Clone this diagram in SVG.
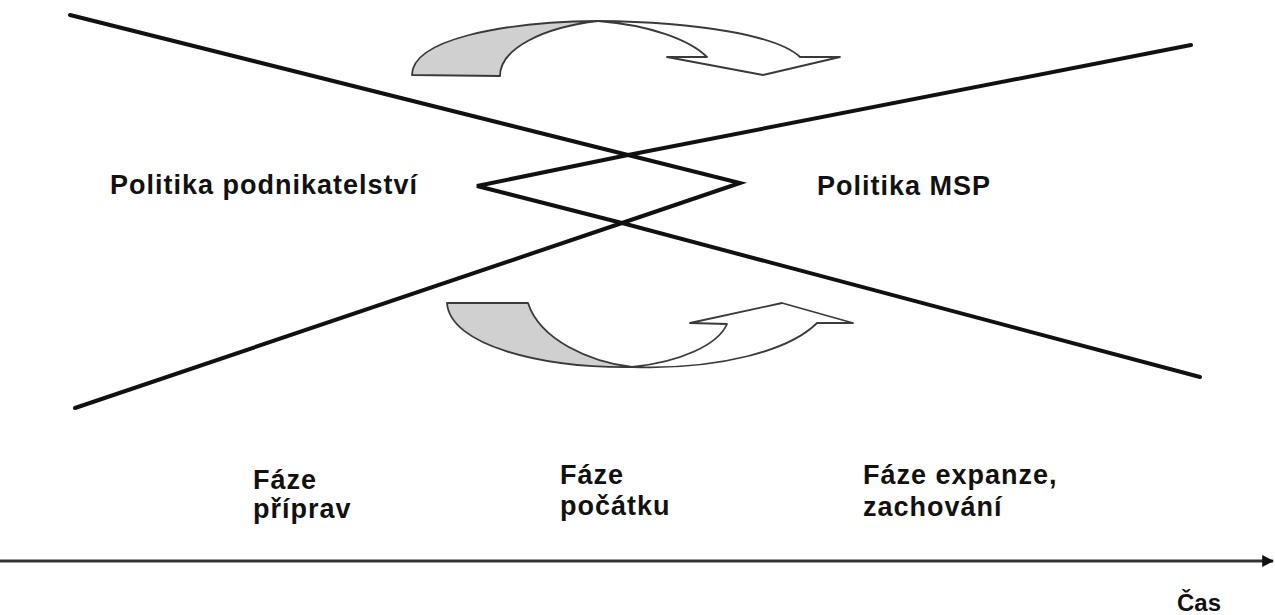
<svg xmlns="http://www.w3.org/2000/svg" width="1275" height="615" viewBox="0 0 1275 615">
  <defs>
    <style>
      .policy { fill: none; stroke: #111; stroke-width: 4; stroke-linecap: round; stroke-linejoin: miter; }
      .ribbon-back { fill: #d0d0d0; stroke: #3a3a3a; stroke-width: 1.8; stroke-linejoin: round; }
      .ribbon-front { fill: #ffffff; stroke: #3a3a3a; stroke-width: 1.8; stroke-linejoin: round; }
      .label { font-family: "Liberation Sans", Arial, sans-serif; font-weight: bold; font-size: 27px; letter-spacing: 1px; fill: #111; }
      .axis { stroke: #333; stroke-width: 3; }
    </style>
    <marker id="axisHead" viewBox="0 0 10 10" refX="9" refY="5" markerWidth="4" markerHeight="4" orient="auto">
      <path d="M0,0 L10,5 L0,10 Z" fill="#111"/>
    </marker>
  </defs>

  <rect width="1275" height="615" fill="#ffffff"/>

  <!-- crossing policy lines with the diamond in the middle -->
  <g id="connectors">
    <polyline class="policy" points="70,15 628,155 740,183 622,223 75,408"/>
    <polyline class="policy" points="1191,45 628,155 477,186 622,223 1200,377"/>
    <line class="axis" x1="0" y1="561" x2="1273" y2="561" marker-end="url(#axisHead)"/>
  </g>

  <!-- upper curved arrow -->
  <g id="arrow-top">
    <path class="ribbon-back" d="M412,75 C412,40 500,22 598,21 C545,27 500,48 500,76 Z"/>
    <path class="ribbon-front" d="M598,21 C700,22 778,36 800,57 L840,57 L763,75 L667,57 L707,57 C690,40 650,25 598,21 Z"/>
  </g>

  <!-- lower curved arrow -->
  <g id="arrow-bottom">
    <path class="ribbon-back" d="M447,303 L528,303 C540,340 590,362 632,367 C540,368 450,345 447,303 Z"/>
    <path class="ribbon-front" d="M632,367 C680,362 718,345 727,324 L690,323 L782,303 L853,323 L817,323 C790,350 720,370 632,367 Z"/>
  </g>

  <g id="policy-entrepreneurship">
    <text class="label" x="110" y="194">Politika podnikatelství</text>
  </g>
  <g id="policy-sme">
    <text class="label" x="817" y="195">Politika MSP</text>
  </g>

  <g id="phase-preparation">
    <text class="label" x="253" y="489">Fáze</text>
    <text class="label" x="253" y="518">příprav</text>
  </g>
  <g id="phase-start">
    <text class="label" x="560" y="484">Fáze</text>
    <text class="label" x="560" y="515">počátku</text>
  </g>
  <g id="phase-expansion">
    <text class="label" x="863" y="484">Fáze expanze,</text>
    <text class="label" x="863" y="516">zachování</text>
  </g>

  <g id="time-label">
    <text x="1177" y="611" font-family="Liberation Sans, Arial, sans-serif" font-weight="bold" font-size="24" fill="#111">Čas</text>
  </g>
</svg>
